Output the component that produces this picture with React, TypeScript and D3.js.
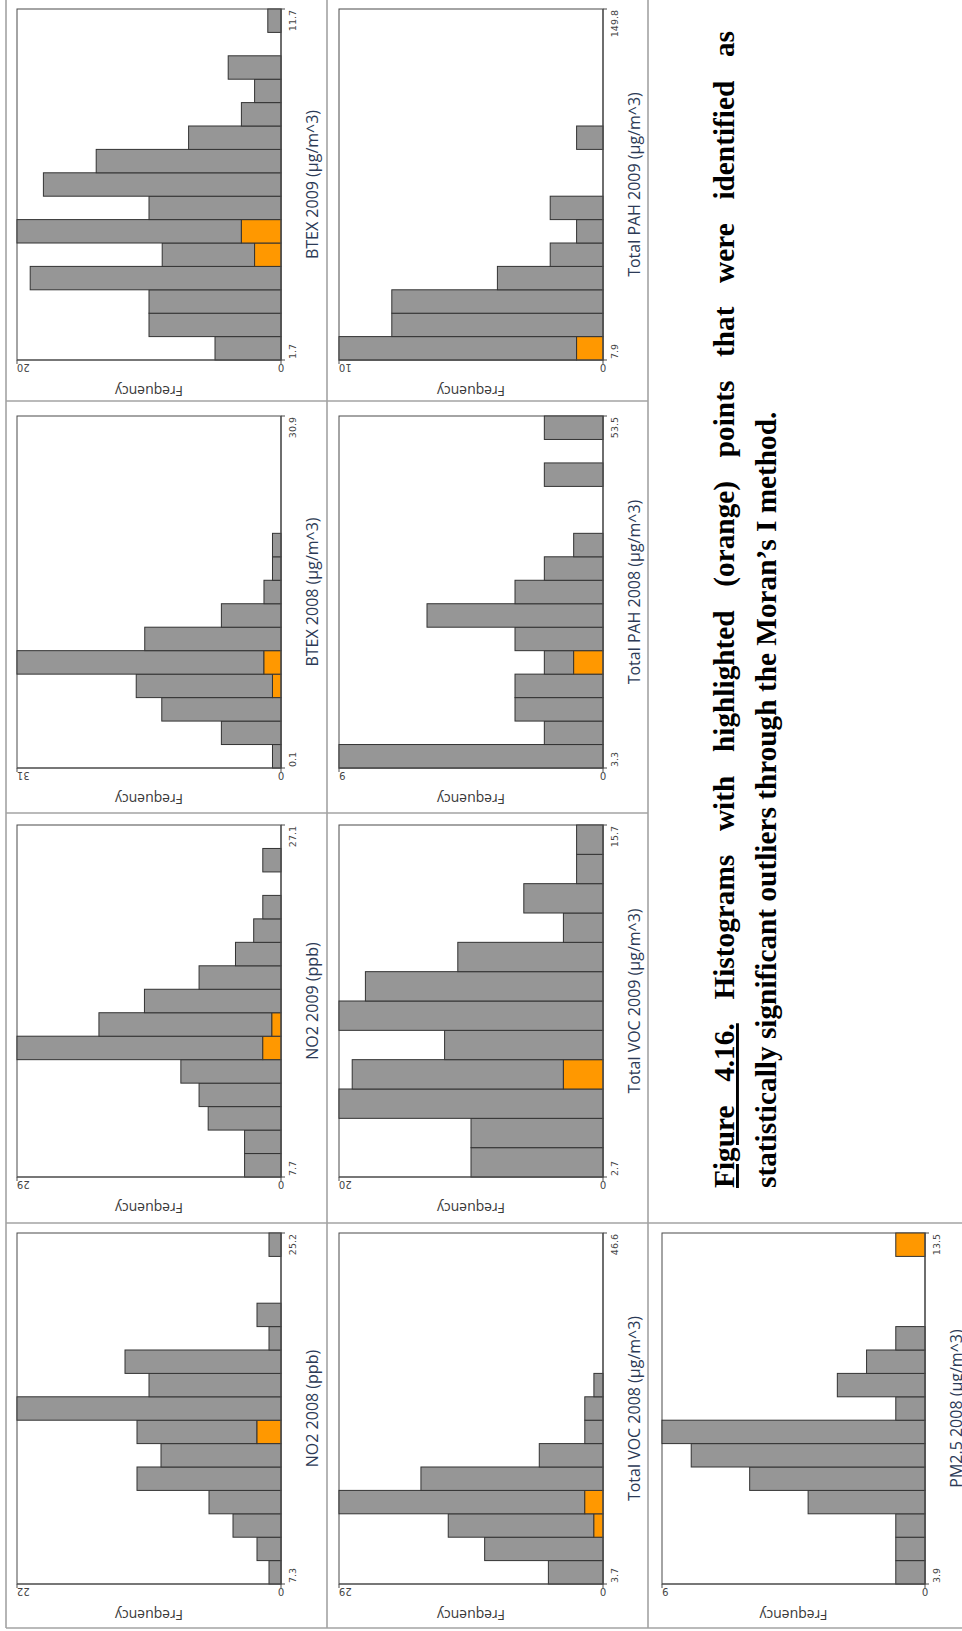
import React, { useLayoutEffect, useRef } from "react";
import * as d3 from "d3";

// ---------- data ----------
const BTEX2009_COUNTS = [5, 10, 10, 19, 9, 20, 10, 18, 14, 7, 3, 2, 4, 0, 1];
const BTEX2009_OUTLIERS = [0, 0, 0, 0, 2, 3, 0, 0, 0, 0, 0, 0, 0, 0, 0];
const BTEX2009_TICKS = ["1.7", "11.7"];
const BTEX2009_MAX = 20;

const BTEX2008_COUNTS = [1, 7, 14, 17, 31, 16, 7, 2, 1, 1, 0, 0, 0, 0, 0];
const BTEX2008_OUTLIERS = [0, 0, 0, 1, 2, 0, 0, 0, 0, 0, 0, 0, 0, 0, 0];
const BTEX2008_TICKS = ["0.1", "30.9"];
const BTEX2008_MAX = 31;

const NO2_2009_COUNTS = [4, 4, 8, 9, 11, 29, 20, 15, 9, 5, 3, 2, 0, 2, 0];
const NO2_2009_OUTLIERS = [0, 0, 0, 0, 0, 2, 1, 0, 0, 0, 0, 0, 0, 0, 0];
const NO2_2009_TICKS = ["7.7", "27.1"];
const NO2_2009_MAX = 29;

const NO2_2008_COUNTS = [1, 2, 4, 6, 12, 10, 12, 22, 11, 13, 1, 2, 0, 0, 1];
const NO2_2008_OUTLIERS = [0, 0, 0, 0, 0, 0, 2, 0, 0, 0, 0, 0, 0, 0, 0];
const NO2_2008_TICKS = ["7.3", "25.2"];
const NO2_2008_MAX = 22;

const PAH2009_COUNTS = [10, 8, 8, 4, 2, 1, 2, 0, 0, 1, 0, 0, 0, 0, 0];
const PAH2009_OUTLIERS = [1, 0, 0, 0, 0, 0, 0, 0, 0, 0, 0, 0, 0, 0, 0];
const PAH2009_TICKS = ["7.9", "149.8"];
const PAH2009_MAX = 10;

const PAH2008_COUNTS = [9, 2, 3, 3, 2, 3, 6, 3, 2, 1, 0, 0, 2, 0, 2];
const PAH2008_OUTLIERS = [0, 0, 0, 0, 1, 0, 0, 0, 0, 0, 0, 0, 0, 0, 0];
const PAH2008_TICKS = ["3.3", "53.5"];
const PAH2008_MAX = 9;

const VOC2009_COUNTS = [10, 10, 20, 19, 12, 20, 18, 11, 3, 6, 2, 2];
const VOC2009_OUTLIERS = [0, 0, 0, 3, 0, 0, 0, 0, 0, 0, 0, 0];
const VOC2009_TICKS = ["2.7", "15.7"];
const VOC2009_MAX = 20;

const VOC2008_COUNTS = [6, 13, 17, 29, 20, 7, 2, 2, 1, 0, 0, 0, 0, 0, 0];
const VOC2008_OUTLIERS = [0, 0, 1, 2, 0, 0, 0, 0, 0, 0, 0, 0, 0, 0, 0];
const VOC2008_TICKS = ["3.7", "46.6"];
const VOC2008_MAX = 29;

const PM25_2008_COUNTS = [1, 1, 1, 4, 6, 8, 9, 1, 3, 2, 1, 0, 0, 0, 1];
const PM25_2008_OUTLIERS = [0, 0, 0, 0, 0, 0, 0, 0, 0, 0, 0, 0, 0, 0, 1];
const PM25_2008_TICKS = ["3.9", "13.5"];
const PM25_2008_MAX = 9;

const Y_LABEL = "Frequency";
const CAPTION_NUM = "Figure 4.16.";
const CAPTION_LINE1 = " Histograms with highlighted (orange) points that were identified as";
const CAPTION_LINE2 = "statistically significant outliers through the Moran\u2019s I method.";

// ---------- layout ----------
const COL_LEFT = [17, 339, 662];
const COL_RIGHT = [281, 603, 925];
const ROW_TOP = [9, 416, 825, 1233];
const ROW_BOTTOM = [360, 768, 1177, 1584];

const PANELS = [
  { col: 0, row: 0, label: "BTEX 2009 (\u00b5g/m^3)", counts: BTEX2009_COUNTS, outliers: BTEX2009_OUTLIERS, ticks: BTEX2009_TICKS, max: BTEX2009_MAX },
  { col: 0, row: 1, label: "BTEX 2008 (\u00b5g/m^3)", counts: BTEX2008_COUNTS, outliers: BTEX2008_OUTLIERS, ticks: BTEX2008_TICKS, max: BTEX2008_MAX },
  { col: 0, row: 2, label: "NO2 2009 (ppb)", counts: NO2_2009_COUNTS, outliers: NO2_2009_OUTLIERS, ticks: NO2_2009_TICKS, max: NO2_2009_MAX },
  { col: 0, row: 3, label: "NO2 2008 (ppb)", counts: NO2_2008_COUNTS, outliers: NO2_2008_OUTLIERS, ticks: NO2_2008_TICKS, max: NO2_2008_MAX },
  { col: 1, row: 0, label: "Total PAH 2009 (\u00b5g/m^3)", counts: PAH2009_COUNTS, outliers: PAH2009_OUTLIERS, ticks: PAH2009_TICKS, max: PAH2009_MAX },
  { col: 1, row: 1, label: "Total PAH 2008 (\u00b5g/m^3)", counts: PAH2008_COUNTS, outliers: PAH2008_OUTLIERS, ticks: PAH2008_TICKS, max: PAH2008_MAX },
  { col: 1, row: 2, label: "Total VOC 2009 (\u00b5g/m^3)", counts: VOC2009_COUNTS, outliers: VOC2009_OUTLIERS, ticks: VOC2009_TICKS, max: VOC2009_MAX },
  { col: 1, row: 3, label: "Total VOC 2008 (\u00b5g/m^3)", counts: VOC2008_COUNTS, outliers: VOC2008_OUTLIERS, ticks: VOC2008_TICKS, max: VOC2008_MAX },
  { col: 2, row: 3, label: "PM2.5 2008 (\u00b5g/m^3)", counts: PM25_2008_COUNTS, outliers: PM25_2008_OUTLIERS, ticks: PM25_2008_TICKS, max: PM25_2008_MAX },
];

const BAR_FILL = "#969696";
const BAR_STROKE = "#333333";
const OUT_FILL = "#ff9800";
const FRAME = "#4a4a4a";
const GRID = "#a3a3a3";
const LABEL_COLOR = "#2c3a56";
const SANS = "'Open Sans', 'DejaVu Sans', sans-serif";
const TICK_FONT = "'DejaVu Sans', sans-serif";

function Panel({ p }: { p: any }) {
  const fx0 = COL_LEFT[p.col];
  const fx1 = COL_RIGHT[p.col];
  const fy0 = ROW_TOP[p.row];
  const fy1 = ROW_BOTTOM[p.row];
  const W = fy1 - fy0; // value axis length (local x)
  const H = fx1 - fx0; // frequency axis length (local y)
  const n = p.counts.length;
  const x = d3.scaleLinear().domain([0, n]).range([0, W]);
  const y = d3.scaleLinear().domain([0, p.max]).range([H, 0]);
  return (
    <g transform={`translate(${fx0},${fy1}) rotate(-90)`}>
      <rect x={0} y={0} width={W} height={H} fill="#fff" stroke={FRAME} strokeWidth={1} />
      {p.counts.map((c: number, i: number) => {
        if (c <= 0) return null;
        const o = p.outliers[i];
        return (
          <g key={i}>
            <rect x={x(i)} y={y(c)} width={x(i + 1) - x(i)} height={y(o) - y(c)}
              fill={BAR_FILL} stroke={BAR_STROKE} strokeWidth={1} />
            {o > 0 && (
              <rect x={x(i)} y={y(o)} width={x(i + 1) - x(i)} height={y(0) - y(o)}
                fill={OUT_FILL} stroke={BAR_STROKE} strokeWidth={1} />
            )}
          </g>
        );
      })}
      <line x1={0} x2={W} y1={H} y2={H} stroke={FRAME} strokeWidth={1.2} />
      <line x1={0} x2={0} y1={0} y2={H} stroke={FRAME} strokeWidth={1.2} />
      {/* end ticks */}
      <line x1={x(0)} x2={x(0)} y1={H} y2={H + 4} stroke={FRAME} />
      <line x1={x(n)} x2={x(n)} y1={H} y2={H + 4} stroke={FRAME} />
      <line x1={-4} x2={0} y1={y(0)} y2={y(0)} stroke={FRAME} />
      <line x1={-4} x2={0} y1={y(p.max)} y2={y(p.max)} stroke={FRAME} />
      {/* x tick labels */}
      <text x={x(0) + 1} y={H + 15} fontSize={9.5} fontFamily={TICK_FONT} fill="#444" textAnchor="start">{p.ticks[0]}</text>
      <text x={x(n) - 1} y={H + 15} fontSize={9.5} fontFamily={TICK_FONT} fill="#444" textAnchor="end">{p.ticks[1]}</text>
      {/* y tick labels (rotated) */}
      <text transform={`translate(-4,${y(0)}) rotate(-90)`} fontSize={10} fontFamily={TICK_FONT} fill="#444" textAnchor="middle">0</text>
      <text transform={`translate(-4,${y(p.max)}) rotate(-90)`} fontSize={10} fontFamily={TICK_FONT} fill="#444" textAnchor="end">{String(p.max)}</text>
      {/* axis titles */}
      <text transform={`translate(-26,${H / 2}) rotate(-90)`} fontSize={14} fontFamily={SANS} fill="#3a3a3a" textAnchor="middle">{Y_LABEL}</text>
      <text x={W / 2} y={H + 37} fontSize={16} fontFamily={SANS} fill={LABEL_COLOR} textAnchor="middle">{p.label}</text>
    </g>
  );
}

export default function App() {
  const line1Ref = useRef<SVGTextElement>(null);

  useLayoutEffect(() => {
    const t = line1Ref.current;
    if (!t) return;
    const target = 1157;
    t.removeAttribute("word-spacing");
    const natural = t.getComputedTextLength();
    const spaces = ((CAPTION_NUM + CAPTION_LINE1).match(/ /g) || []).length;
    const extra = (target - natural) / spaces;
    if (extra > 0) t.setAttribute("word-spacing", String(extra));
  }, []);

  const cap = { fontFamily: "'Liberation Serif', 'Times New Roman', serif", fontWeight: 700, fontSize: 29.3 };

  return (
    <svg width={962} height={1631} style={{ position: "absolute", left: 0, top: 0, background: "#fff" }}>
      <rect x={0} y={0} width={962} height={1631} fill="#fff" />
      {/* table borders */}
      <g stroke={GRID} strokeWidth={1.6} fill="none">
        <line x1={6} x2={6} y1={0} y2={1628} />
        <line x1={327} x2={327} y1={0} y2={1628} />
        <line x1={648} x2={648} y1={0} y2={1628} />
        <line x1={6} x2={648} y1={401} y2={401} />
        <line x1={6} x2={648} y1={813} y2={813} />
        <line x1={6} x2={962} y1={1223} y2={1223} />
        <line x1={6} x2={962} y1={1628} y2={1628} />
      </g>
      {PANELS.map((p, i) => <Panel key={i} p={p} />)}
      {/* caption */}
      <text ref={line1Ref} transform="translate(734,1188) rotate(-90)" {...cap} fill="#000" xmlSpace="preserve">
        <tspan textDecoration="underline">{CAPTION_NUM}</tspan>
        <tspan>{CAPTION_LINE1}</tspan>
      </text>
      <text transform="translate(776,1188) rotate(-90)" {...cap} fill="#000">{CAPTION_LINE2}</text>
    </svg>
  );
}
